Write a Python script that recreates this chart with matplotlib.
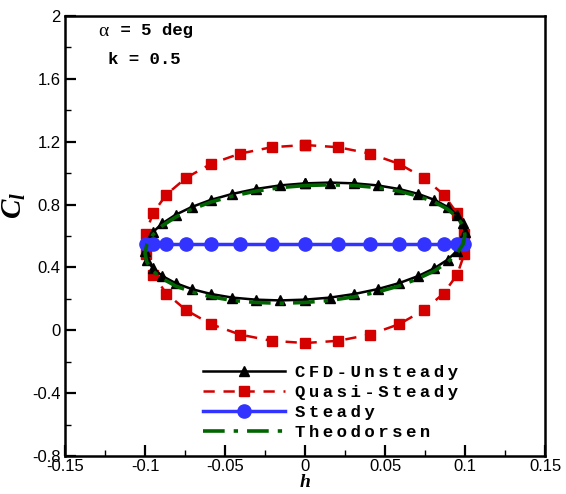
import matplotlib
matplotlib.use("Agg")
import matplotlib.pyplot as plt
from matplotlib.ticker import MultipleLocator, FuncFormatter

plt.rcParams['axes.unicode_minus'] = False
plt.rcParams['mathtext.fontset'] = 'custom'
plt.rcParams['mathtext.rm'] = 'Liberation Serif'
plt.rcParams['mathtext.it'] = 'Liberation Serif:bold:italic'
plt.rcParams['mathtext.bf'] = 'Liberation Serif:bold'

# ---- data ----
cfd_h = [0, 0.0156, 0.0309, 0.0454, 0.0588, 0.0707, 0.0809, 0.0891, 0.0951, 0.0988,
         0.1, 0.0988, 0.0951, 0.0891, 0.0809, 0.0707, 0.0588, 0.0454, 0.0309, 0.0156,
         0, -0.0156, -0.0309, -0.0454, -0.0588, -0.0707, -0.0809, -0.0891, -0.0951, -0.0988,
         -0.1, -0.0988, -0.0951, -0.0891, -0.0809, -0.0707, -0.0588, -0.0454, -0.0309, -0.0156, 0]
cfd_cl = [0.935, 0.940, 0.935, 0.922, 0.899, 0.868, 0.830, 0.785, 0.735, 0.681,
          0.624, 0.565, 0.506, 0.449, 0.395, 0.345, 0.300, 0.262, 0.231, 0.208,
          0.195, 0.190, 0.195, 0.208, 0.231, 0.262, 0.300, 0.345, 0.395, 0.449,
          0.506, 0.565, 0.624, 0.681, 0.735, 0.785, 0.830, 0.868, 0.899, 0.922, 0.935]

qs_h = [0, 0.0208, 0.0407, 0.0588, 0.0743, 0.0866, 0.0951, 0.0995, 0.0995, 0.0951,
        0.0866, 0.0743, 0.0588, 0.0407, 0.0208, 0, -0.0208, -0.0407, -0.0588, -0.0743,
        -0.0866, -0.0951, -0.0995, -0.0995, -0.0951, -0.0866, -0.0743, -0.0588, -0.0407, -0.0208, 0]
qs_cl = [1.179, 1.165, 1.124, 1.059, 0.970, 0.864, 0.744, 0.615, 0.483, 0.354,
         0.234, 0.128, 0.039, -0.027, -0.067, -0.081, -0.067, -0.027, 0.039, 0.128,
         0.234, 0.354, 0.483, 0.615, 0.744, 0.864, 0.970, 1.059, 1.124, 1.165, 1.179]

st_h = [-0.0995, -0.0951, -0.0866, -0.0743, -0.0588, -0.0407, -0.0208, 0,
        0.0208, 0.0407, 0.0588, 0.0743, 0.0866, 0.0951, 0.0995]
st_cl = [0.55] * 15

th_h = cfd_h
th_cl = [0.921, 0.926, 0.921, 0.908, 0.885, 0.854, 0.816, 0.771, 0.720, 0.666,
         0.608, 0.549, 0.490, 0.433, 0.378, 0.329, 0.282, 0.244, 0.213, 0.190,
         0.177, 0.172, 0.177, 0.190, 0.213, 0.244, 0.282, 0.329, 0.378, 0.433,
         0.490, 0.549, 0.608, 0.666, 0.720, 0.771, 0.816, 0.854, 0.885, 0.908, 0.921]

labels = ['CFD-Unsteady', 'Quasi-Steady', 'Steady', 'Theodorsen']

# ---- figure ----
W, H = 566, 494
fig = plt.figure(figsize=(W / 100, H / 100), dpi=100)
ax = fig.add_axes([65 / W, 1 - 456 / H, 480 / W, 440 / H])

l1, = ax.plot(cfd_h, cfd_cl, color='black', lw=1.8, marker='^', ms=7.5,
              mfc='black', mec='black', zorder=3)
l2, = ax.plot(qs_h, qs_cl, color='#d40000', lw=1.8, ls=(0, (4.5, 3.5)), marker='s', ms=7,
              mfc='#d40000', mec='#d40000', zorder=2)
l3, = ax.plot(st_h, st_cl, color='#3333ff', lw=2.5, marker='o', ms=9.5,
              mfc='#3333ff', mec='#3333ff', zorder=4)
l4, = ax.plot(th_h, th_cl, color='#006400', lw=2.6, ls=(0, (6, 2.5, 1.2, 2.5)), zorder=5)

ax.set_xlim(-0.15, 0.15)
ax.set_ylim(-0.8, 2.0)
ax.xaxis.set_major_locator(MultipleLocator(0.05))
ax.xaxis.set_minor_locator(MultipleLocator(0.025))
ax.yaxis.set_major_locator(MultipleLocator(0.4))
ax.yaxis.set_minor_locator(MultipleLocator(0.2))
fmt = FuncFormatter(lambda v, p: ('%g' % round(v, 4)))
ax.xaxis.set_major_formatter(fmt)
ax.yaxis.set_major_formatter(fmt)
ax.tick_params(which='major', direction='in', length=8, width=1.6, labelsize=12, pad=3,
               top=False, right=False)
ax.tick_params(axis='x', which='major', pad=2)
ax.tick_params(which='minor', direction='in', length=4.5, width=1.0, top=False, right=False)
for lab in ax.get_xticklabels() + ax.get_yticklabels():
    lab.set_fontfamily('Liberation Sans')
for s in ax.spines.values():
    s.set_linewidth(1.8)

ax.set_xlabel('h', fontfamily='Liberation Serif', fontweight='bold', fontstyle='italic',
              fontsize=14)
ax.xaxis.set_label_coords(0.5, -0.042)
ax.set_ylabel(r'$C_l$', fontsize=21)
ax.yaxis.set_label_coords(-0.078, 0.57)

mono = dict(fontfamily='Liberation Mono', fontweight='bold', fontsize=12.5)
fig.text(98 / W, 1 - 31 / H, r'$\mathrm{\alpha}$', fontsize=14, va='center', ha='left')
fig.text(110 / W, 1 - 31 / H, ' = 5 deg', va='center', ha='left', **mono)
fig.text(108 / W, 1 - 59 / H, 'k = 0.5', va='center', ha='left', **mono)

TS = '\u2009'
spaced = [TS.join(s) for s in labels]
leg = fig.legend([l1, l2, l3, l4], spaced, loc='upper left',
                 bbox_to_anchor=(203 / W, 1 - 365 / H), frameon=False,
                 borderpad=0, borderaxespad=0, handlelength=4.7, handletextpad=0.62,
                 labelspacing=0.27,
                 prop={'family': ['Liberation Mono', 'DejaVu Sans'], 'weight': 'bold', 'size': 12.5})

fig.savefig('out.png', dpi=100)
